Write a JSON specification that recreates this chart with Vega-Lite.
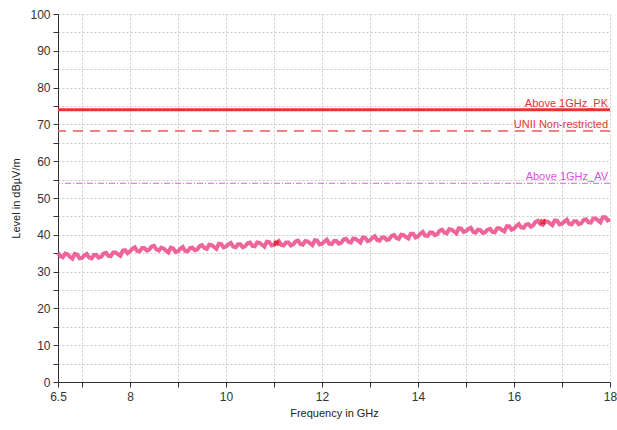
{
  "$schema": "https://vega.github.io/schema/vega-lite/v6.json",
  "width": 552,
  "height": 368,
  "autosize": {"type": "none"},
  "padding": {"left": 58, "top": 14, "right": 7, "bottom": 48},
  "background": "white",
  "config": {
    "view": {"stroke": null},
    "font": "Liberation Sans",
    "axis": {
      "labelFont": "Liberation Sans",
      "titleFont": "Liberation Sans",
      "labelFontSize": 12,
      "labelColor": "#333333",
      "titleFontSize": 11,
      "titleFontWeight": "normal",
      "titleColor": "#222222",
      "domainColor": "#333333",
      "tickColor": "#333333",
      "tickSize": 5,
      "gridColor": "#cccccc",
      "gridDash": [2, 2],
      "gridWidth": 1
    }
  },
  "datasets": {
    "trace": [
      {"f":6.5,"y":35.1},{"f":6.6,"y":33.9},{"f":6.7,"y":34.7},{"f":6.8,"y":33.5},{"f":6.9,"y":34.6},
      {"f":7.0,"y":33.7},{"f":7.1,"y":34.8},{"f":7.2,"y":33.6},{"f":7.3,"y":34.5},{"f":7.4,"y":34.0},
      {"f":7.5,"y":35.1},{"f":7.6,"y":34.2},{"f":7.7,"y":35.2},{"f":7.8,"y":34.3},{"f":7.9,"y":35.8},
      {"f":8.0,"y":35.5},{"f":8.1,"y":36.6},{"f":8.2,"y":35.5},{"f":8.3,"y":36.4},{"f":8.4,"y":36.0},
      {"f":8.5,"y":37.0},{"f":8.6,"y":35.7},{"f":8.7,"y":36.3},{"f":8.8,"y":35.2},{"f":8.9,"y":36.3},
      {"f":9.0,"y":35.5},{"f":9.1,"y":36.7},{"f":9.2,"y":35.5},{"f":9.3,"y":36.5},{"f":9.4,"y":36.0},
      {"f":9.5,"y":37.2},{"f":9.6,"y":36.2},{"f":9.7,"y":37.2},{"f":9.8,"y":36.2},{"f":9.9,"y":37.5},
      {"f":10.0,"y":36.8},{"f":10.1,"y":37.8},{"f":10.2,"y":36.6},{"f":10.3,"y":37.4},{"f":10.4,"y":36.9},
      {"f":10.5,"y":37.9},{"f":10.6,"y":36.9},{"f":10.7,"y":37.8},{"f":10.8,"y":36.8},{"f":10.9,"y":38.0},
      {"f":11.0,"y":37.3},{"f":11.1,"y":38.3},{"f":11.2,"y":37.1},{"f":11.3,"y":37.9},{"f":11.4,"y":37.4},
      {"f":11.5,"y":38.4},{"f":11.6,"y":37.3},{"f":11.7,"y":38.2},{"f":11.8,"y":37.2},{"f":11.9,"y":38.4},
      {"f":12.0,"y":37.6},{"f":12.1,"y":38.7},{"f":12.2,"y":37.5},{"f":12.3,"y":38.3},{"f":12.4,"y":37.8},
      {"f":12.5,"y":38.9},{"f":12.6,"y":37.9},{"f":12.7,"y":38.9},{"f":12.8,"y":37.9},{"f":12.9,"y":39.2},
      {"f":13.0,"y":38.5},{"f":13.1,"y":39.6},{"f":13.2,"y":38.4},{"f":13.3,"y":39.3},{"f":13.4,"y":38.8},
      {"f":13.5,"y":39.9},{"f":13.6,"y":38.9},{"f":13.7,"y":39.9},{"f":13.8,"y":39.0},{"f":13.9,"y":40.3},
      {"f":14.0,"y":39.6},{"f":14.1,"y":40.8},{"f":14.2,"y":39.7},{"f":14.3,"y":40.6},{"f":14.4,"y":40.2},
      {"f":14.5,"y":41.4},{"f":14.6,"y":40.4},{"f":14.7,"y":41.4},{"f":14.8,"y":40.4},{"f":14.9,"y":41.7},
      {"f":15.0,"y":41.0},{"f":15.1,"y":41.9},{"f":15.2,"y":40.6},{"f":15.3,"y":41.3},{"f":15.4,"y":40.7},
      {"f":15.5,"y":41.6},{"f":15.6,"y":40.7},{"f":15.7,"y":41.8},{"f":15.8,"y":40.9},{"f":15.9,"y":42.3},
      {"f":16.0,"y":41.7},{"f":16.1,"y":42.9},{"f":16.2,"y":41.9},{"f":16.3,"y":42.9},{"f":16.4,"y":42.6},
      {"f":16.5,"y":43.8},{"f":16.6,"y":42.7},{"f":16.7,"y":43.6},{"f":16.8,"y":42.6},{"f":16.9,"y":43.8},
      {"f":17.0,"y":43.0},{"f":17.1,"y":44.1},{"f":17.2,"y":42.8},{"f":17.3,"y":43.7},{"f":17.4,"y":43.1},
      {"f":17.5,"y":44.2},{"f":17.6,"y":43.3},{"f":17.7,"y":44.4},{"f":17.8,"y":43.4},{"f":17.9,"y":44.8},
      {"f":18.0,"y":44.2},
      {"f":6.55,"y":34.2},{"f":6.65,"y":34.9},{"f":6.75,"y":34.0},{"f":6.85,"y":34.8},{"f":6.95,"y":33.6},
      {"f":7.05,"y":34.4},{"f":7.15,"y":33.8},{"f":7.25,"y":34.5},{"f":7.35,"y":33.8},{"f":7.45,"y":34.9},
      {"f":7.55,"y":34.3},{"f":7.65,"y":35.2},{"f":7.75,"y":34.7},{"f":7.85,"y":35.7},{"f":7.95,"y":35.0},
      {"f":8.05,"y":36.2},{"f":8.15,"y":35.6},{"f":8.25,"y":36.4},{"f":8.35,"y":35.7},{"f":8.45,"y":36.8},
      {"f":8.55,"y":36.0},{"f":8.65,"y":36.5},{"f":8.75,"y":35.7},{"f":8.85,"y":36.5},{"f":8.95,"y":35.3},
      {"f":9.05,"y":36.2},{"f":9.15,"y":35.6},{"f":9.25,"y":36.4},{"f":9.35,"y":35.8},{"f":9.45,"y":36.9},
      {"f":9.55,"y":36.4},{"f":9.65,"y":37.3},{"f":9.75,"y":36.7},{"f":9.85,"y":37.6},{"f":9.95,"y":36.6},
      {"f":10.05,"y":37.4},{"f":10.15,"y":36.8},{"f":10.25,"y":37.4},{"f":10.35,"y":36.6},{"f":10.45,"y":37.7},
      {"f":10.55,"y":37.0},{"f":10.65,"y":37.9},{"f":10.75,"y":37.3},{"f":10.85,"y":38.1},{"f":10.95,"y":37.1},
      {"f":11.05,"y":37.9},{"f":11.15,"y":37.3},{"f":11.25,"y":37.9},{"f":11.35,"y":37.1},{"f":11.45,"y":38.2},
      {"f":11.55,"y":37.5},{"f":11.65,"y":38.3},{"f":11.75,"y":37.7},{"f":11.85,"y":38.5},{"f":11.95,"y":37.4},
      {"f":12.05,"y":38.2},{"f":12.15,"y":37.6},{"f":12.25,"y":38.3},{"f":12.35,"y":37.6},{"f":12.45,"y":38.7},
      {"f":12.55,"y":38.1},{"f":12.65,"y":39.0},{"f":12.75,"y":38.4},{"f":12.85,"y":39.3},{"f":12.95,"y":38.3},
      {"f":13.05,"y":39.2},{"f":13.15,"y":38.6},{"f":13.25,"y":39.3},{"f":13.35,"y":38.6},{"f":13.45,"y":39.7},
      {"f":13.55,"y":39.1},{"f":13.65,"y":40.0},{"f":13.75,"y":39.4},{"f":13.85,"y":40.3},{"f":13.95,"y":39.3},
      {"f":14.05,"y":40.3},{"f":14.15,"y":39.8},{"f":14.25,"y":40.6},{"f":14.35,"y":39.9},{"f":14.45,"y":41.1},
      {"f":14.55,"y":40.6},{"f":14.65,"y":41.5},{"f":14.75,"y":40.9},{"f":14.85,"y":41.8},{"f":14.95,"y":40.8},
      {"f":15.05,"y":41.6},{"f":15.15,"y":40.8},{"f":15.25,"y":41.4},{"f":15.35,"y":40.5},{"f":15.45,"y":41.4},
      {"f":15.55,"y":40.8},{"f":15.65,"y":41.8},{"f":15.75,"y":41.3},{"f":15.85,"y":42.3},{"f":15.95,"y":41.4},
      {"f":16.05,"y":42.4},{"f":16.15,"y":42.0},{"f":16.25,"y":42.8},{"f":16.35,"y":42.2},{"f":16.45,"y":43.5},
      {"f":16.55,"y":42.9},{"f":16.65,"y":43.7},{"f":16.75,"y":43.1},{"f":16.85,"y":43.9},{"f":16.95,"y":42.8},
      {"f":17.05,"y":43.6},{"f":17.15,"y":43.0},{"f":17.25,"y":43.7},{"f":17.35,"y":42.9},{"f":17.45,"y":44.0},
      {"f":17.55,"y":43.4},{"f":17.65,"y":44.4},{"f":17.75,"y":43.9},{"f":17.85,"y":44.8},{"f":17.95,"y":43.9}
    ],
    "markers": [
      {"f": 11.05, "y": 37.7},
      {"f": 16.6, "y": 43.5}
    ],
    "limits": [
      {"name": "PK", "level": 74, "f": 18, "label": "Above 1GHz_PK"},
      {"name": "UNII", "level": 68.2, "f": 18, "label": "UNII Non-restricted"},
      {"name": "AV", "level": 54, "f": 18, "label": "Above 1GHz_AV"}
    ]
  },
  "encoding": {
    "x": {
      "field": "f",
      "type": "quantitative",
      "scale": {"domain": [6.5, 18], "nice": false, "zero": false},
      "axis": {
        "title": "Frequency in GHz",
        "values": [6.5, 7, 8, 9, 10, 11, 12, 13, 14, 15, 16, 17, 18],
        "format": ".1~f",
        "labelExpr": "(datum.value == 6.5 || datum.value % 2 == 0) ? datum.label : ''",
        "labelFlush": false,
        "labelOverlap": false,
        "labelPadding": 4,
        "titlePadding": 5,
        "grid": true
      }
    },
    "y": {
      "field": "y",
      "type": "quantitative",
      "scale": {"domain": [0, 100], "nice": false},
      "axis": {
        "title": "Level in dBµV/m",
        "values": [0, 5, 10, 15, 20, 25, 30, 35, 40, 45, 50, 55, 60, 65, 70, 75, 80, 85, 90, 95, 100],
        "labelExpr": "datum.value % 10 == 0 ? datum.label : ''",
        "labelPadding": 3,
        "titlePadding": 8,
        "grid": true
      }
    }
  },
  "layer": [
    {
      "data": {"name": "limits"},
      "transform": [{"filter": "datum.name == 'PK'"}],
      "mark": {"type": "rule", "color": "#e8332f", "strokeWidth": 3},
      "encoding": {"y": {"field": "level", "type": "quantitative"}, "x": null}
    },
    {
      "data": {"name": "limits"},
      "transform": [{"filter": "datum.name == 'UNII'"}],
      "mark": {"type": "rule", "color": "#ee5a55", "strokeWidth": 1.5, "strokeDash": [10, 7]},
      "encoding": {"y": {"field": "level", "type": "quantitative"}, "x": null}
    },
    {
      "data": {"name": "limits"},
      "transform": [{"filter": "datum.name == 'AV'"}],
      "mark": {"type": "rule", "color": "#e45ce4", "strokeWidth": 1, "strokeDash": [6, 2, 1, 2]},
      "encoding": {"y": {"field": "level", "type": "quantitative"}, "x": null}
    },
    {
      "data": {"name": "limits"},
      "mark": {"type": "text", "align": "right", "baseline": "bottom", "dy": -1, "dx": -2, "fontSize": 11, "font": "Liberation Sans"},
      "encoding": {
        "x": {"field": "f", "type": "quantitative"},
        "y": {"field": "level", "type": "quantitative"},
        "text": {"field": "label"},
        "color": {
          "field": "name",
          "type": "nominal",
          "scale": {"domain": ["PK", "UNII", "AV"], "range": ["#e8332f", "#e23a36", "#e050e0"]},
          "legend": null
        }
      }
    },
    {
      "data": {"name": "trace"},
      "mark": {"type": "line", "color": "#ec5490", "strokeWidth": 4, "opacity": 0.9},
      "encoding": {}
    },
    {
      "data": {"name": "markers"},
      "mark": {"type": "point", "shape": "cross", "filled": true, "color": "#e0101a", "size": 45, "angle": 45},
      "encoding": {}
    }
  ]
}
